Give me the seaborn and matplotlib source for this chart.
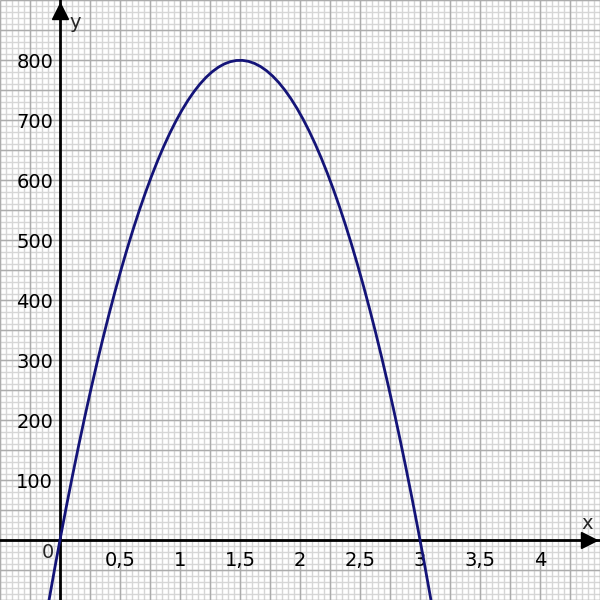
import numpy as np
import matplotlib
matplotlib.use("Agg")
import matplotlib.pyplot as plt
import seaborn as sns

# points
x_pts = [0, 0.5, 1, 1.5, 2, 2.5, 3]
y_pts = [0, 445, 710, 800, 710, 445, 0]

x_ticks = [0.5, 1, 1.5, 2, 2.5, 3, 3.5, 4]
x_labels = ["0,5", "1", "1,5", "2", "2,5", "3", "3,5", "4"]
y_ticks = [100, 200, 300, 400, 500, 600, 700, 800]

sns.set_style("white")
plt.rcParams["font.family"] = ["DejaVu Sans"]

fig = plt.figure(figsize=(6, 6), dpi=100)
ax = fig.add_axes([0, 0, 1, 1])
ax.set_xlim(-0.5, 4.5)
ax.set_ylim(-100, 900)

# graph paper grid
ax.vlines(np.arange(-0.5, 4.55, 0.05), -100, 900, color="#d6d6d6", lw=1.0, zorder=0)
ax.hlines(np.arange(-100, 901, 10), -0.5, 4.5, color="#d6d6d6", lw=1.0, zorder=0)
ax.vlines(np.arange(-0.5, 4.55, 0.25), -100, 900, color="#acacac", lw=1.0, zorder=0)
ax.hlines(np.arange(-100, 901, 50), -0.5, 4.5, color="#acacac", lw=1.0, zorder=0)

sns.regplot(x=x_pts, y=y_pts, order=2, scatter=False, ci=None, truncate=False,
            ax=ax, line_kws=dict(color="#141478", lw=2, zorder=5))

for s in ["top", "right"]:
    ax.spines[s].set_visible(False)
ax.spines["left"].set_position(("data", 0))
ax.spines["bottom"].set_position(("data", 0))
for s in ["left", "bottom"]:
    ax.spines[s].set_linewidth(2)
    ax.spines[s].set_color("black")
    ax.spines[s].set_zorder(4)

ax.set_xticks(x_ticks)
ax.set_xticklabels(x_labels)
ax.set_yticks(y_ticks)
ax.tick_params(direction="inout", length=10, width=1.8, labelsize=14,
               colors="black")
ax.tick_params(axis="x", pad=3)
ax.tick_params(axis="y", pad=0)

# arrows at the ends of the axes
ax.plot(0.982, 0, ">", color="black", ms=12, transform=ax.get_yaxis_transform(),
        clip_on=False, zorder=6)
ax.plot(0, 0.982, "^", color="black", ms=12, transform=ax.get_xaxis_transform(),
        clip_on=False, zorder=6)

ax.text(-0.1, -20, "0", fontsize=14, ha="center", va="center")
ax.text(4.39, 27, "x", fontsize=14, ha="center", va="center")
ax.text(0.125, 862, "y", fontsize=14, ha="center", va="center")

fig.savefig("out.png", dpi=100)
